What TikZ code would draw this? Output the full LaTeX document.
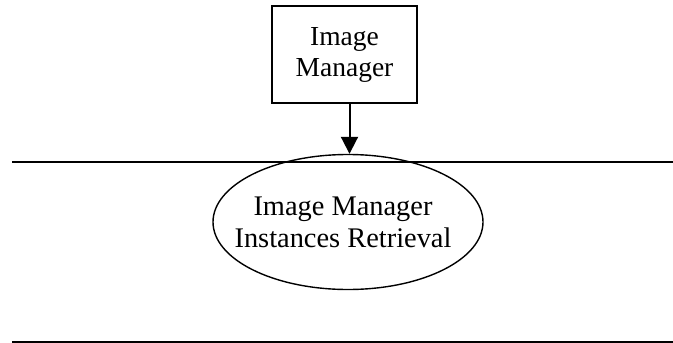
\documentclass[tikz,border=0pt]{standalone}
\usepackage{fontspec}
\setmainfont{Liberation Serif}
\usetikzlibrary{shapes.geometric,arrows.meta}
\begin{document}
\begin{tikzpicture}[x=1pt,y=-1pt,
  boxnode/.style={draw,line width=1.4pt,rectangle,minimum width=145pt,minimum height=97pt,inner sep=0pt,align=center,font=\fontsize{27.5}{31}\selectfont},
  ellnode/.style={draw,line width=1.4pt,ellipse,minimum width=270pt,minimum height=135pt,inner sep=0pt},
  txt/.style={align=center,inner sep=0pt,font=\fontsize{28.4}{32}\selectfont},
  sepline/.style={line width=2.2pt},
  arr/.style={line width=2pt,-{Triangle[length=17pt,width=17pt]}}]
\useasboundingbox (0,0) rectangle (673,343);
\node[boxnode] (box) at (344.5,54.5) {Image\\Manager};
\node[ellnode] (ell) at (348,222) {};
\node[txt,xshift=-5pt] (elltext) at (ell.center) {Image Manager\\Instances Retrieval};
\coordinate (l1a) at (12,162);
\coordinate (l1b) at (673,162);
\coordinate (l2a) at (12,341.8);
\coordinate (l2b) at (673,341.8);
\draw[sepline] (l1a) -- (l1b);
\draw[sepline] (l2a) -- (l2b);
\draw[arr] ([xshift=1.5pt]box.south -| ell.north) -- ([xshift=1.5pt]ell.north);
\end{tikzpicture}
\end{document}
